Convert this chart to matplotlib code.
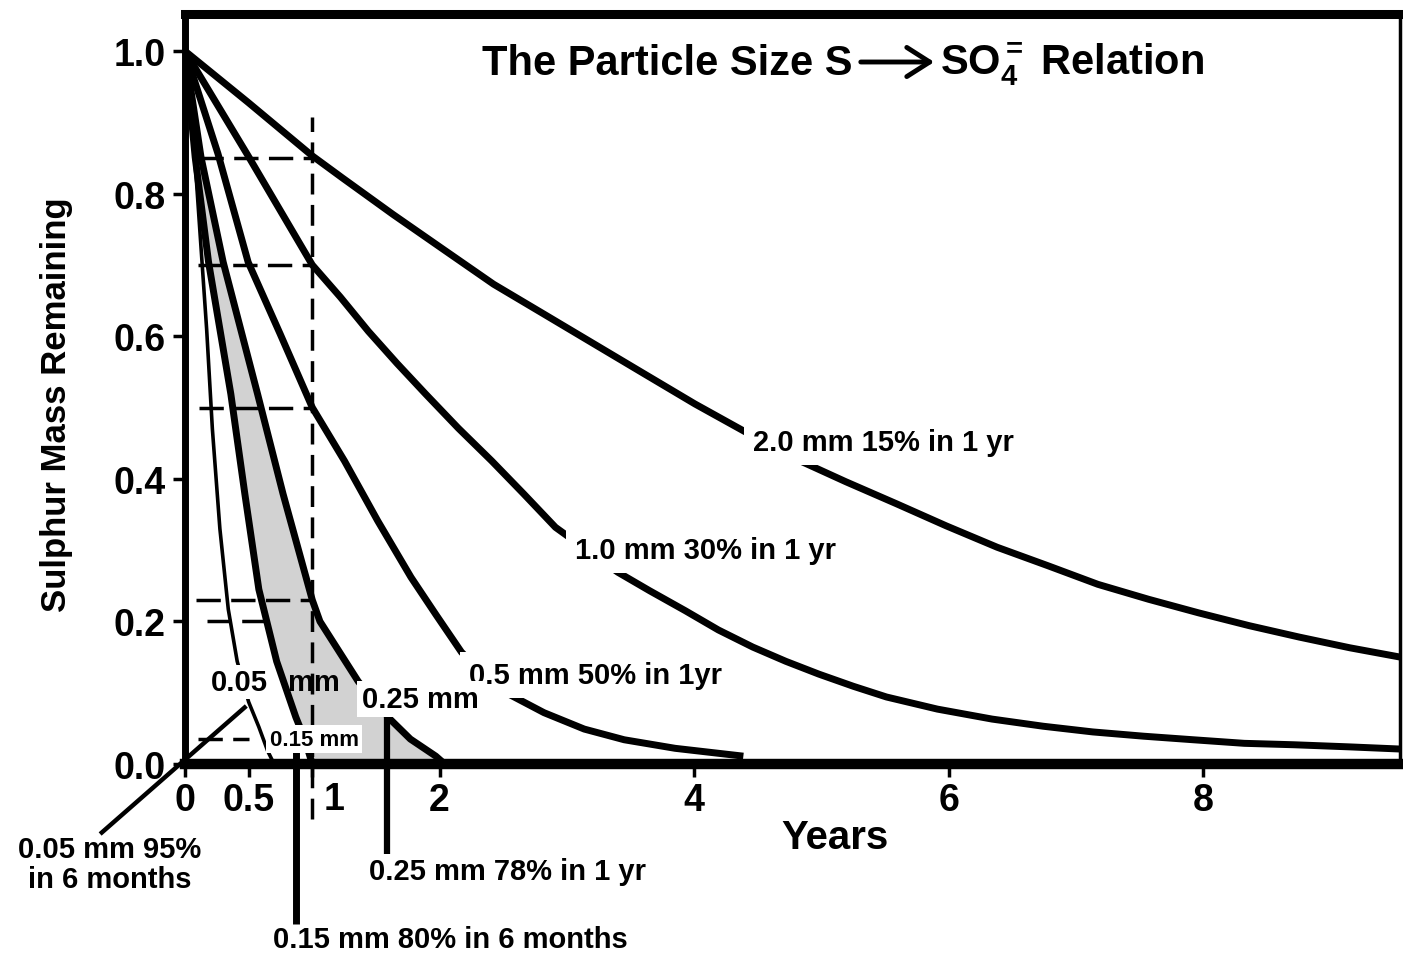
import numpy as np
import matplotlib
matplotlib.use("Agg")
import matplotlib.pyplot as plt

plt.rcParams['font.family'] = ['Liberation Sans', 'DejaVu Sans']
plt.rcParams['font.weight'] = 'bold'
plt.rcParams['mathtext.fontset'] = 'custom'
plt.rcParams['mathtext.rm'] = 'Liberation Sans:bold'
plt.rcParams['mathtext.it'] = 'Liberation Sans:bold'
plt.rcParams['mathtext.bf'] = 'Liberation Sans:bold'
plt.rcParams['mathtext.sf'] = 'Liberation Sans:bold'

# ---------------- data (years, fraction of sulphur mass remaining) ----------------
years_2_0 = [0.000, 0.496, 1.000, 1.237, 1.633, 2.028, 2.424, 2.820, 3.215, 3.610, 4.006,
             4.400, 4.797, 5.190, 5.589, 5.980, 6.380, 6.780, 7.171, 7.570, 7.962, 8.360,
             8.753, 9.150, 9.544]
mass_2_0 = [1.000, 0.928, 0.853, 0.822, 0.771, 0.722, 0.673, 0.631, 0.589, 0.547, 0.505,
            0.466, 0.428, 0.396, 0.365, 0.334, 0.304, 0.278, 0.252, 0.231, 0.212, 0.194,
            0.178, 0.163, 0.150]

years_1_0 = [0.000, 0.496, 1.000, 1.220, 1.440, 1.665, 1.890, 2.147, 2.410, 2.660, 2.910,
             3.400, 3.650, 3.930, 4.190, 4.460, 4.720, 4.980, 5.250, 5.510, 5.910, 6.340,
             6.740, 7.130, 7.530, 7.920, 8.320, 8.710, 9.150, 9.544]
mass_1_0 = [1.000, 0.853, 0.700, 0.655, 0.607, 0.562, 0.519, 0.471, 0.425, 0.379, 0.332,
            0.269, 0.243, 0.215, 0.188, 0.164, 0.144, 0.126, 0.109, 0.094, 0.077, 0.063,
            0.053, 0.045, 0.039, 0.034, 0.029, 0.027, 0.024, 0.021]

years_0_5 = [0.000, 0.259, 0.496, 0.748, 1.000, 1.253, 1.514, 1.775, 1.973, 2.171, 2.360,
             2.543, 2.820, 3.136, 3.450, 3.850, 4.386]
mass_0_5 = [1.000, 0.856, 0.704, 0.603, 0.500, 0.425, 0.341, 0.262, 0.209, 0.157, 0.123,
            0.098, 0.072, 0.049, 0.034, 0.022, 0.011]

years_0_25 = [0.00, 0.126, 0.30, 0.57, 0.77, 1.00, 1.06, 1.36, 1.61, 1.77, 1.97, 2.04]
mass_0_25 = [1.000, 0.851, 0.704, 0.519, 0.379, 0.230, 0.200, 0.116, 0.063, 0.035, 0.011, 0.000]

years_0_15 = [0.00, 0.08, 0.185, 0.36, 0.47, 0.58, 0.72, 0.87, 0.94, 1.00]
mass_0_15 = [1.000, 0.851, 0.704, 0.519, 0.379, 0.245, 0.144, 0.066, 0.035, 0.000]

years_0_05 = [0.00, 0.089, 0.17, 0.215, 0.274, 0.34, 0.41, 0.50, 0.58, 0.65, 0.70]
mass_0_05 = [1.000, 0.820, 0.610, 0.470, 0.330, 0.217, 0.144, 0.087, 0.052, 0.018, 0.000]

# one-year / six-month reference readings (dashed guides)
one_year_levels = [0.85, 0.70, 0.50, 0.23]
one_year_starts = [0.11, 0.10, 0.11, 0.09]
six_month_levels = [0.20, 0.035]
six_month_starts = [0.17, 0.10]
six_month_ends = [0.62, 0.50]

x_ticks = [0, 0.5, 1, 2, 4, 6, 8]
x_tick_labels = ["0", "0.5", "", "2", "4", "6", "8"]
y_ticks = [0.0, 0.2, 0.4, 0.6, 0.8, 1.0]
y_tick_labels = ["0.0", "0.2", "0.4", "0.6", "0.8", "1.0"]

# ---------------- figure ----------------
W, H = 1403, 954
fig = plt.figure(figsize=(W / 100, H / 100), dpi=100)
ax = fig.add_axes([185 / W, (H - 765) / H, (1400 - 185) / W, (765 - 15) / H])
XMAX, YMAX = 9.544, 1.052
ax.set_xlim(0, XMAX)
ax.set_ylim(0, YMAX)


def px2x(px):
    return (px - 185) / 135.0 if px <= 320 else 1 + (px - 320) / 126.4


def py2y(py):
    return (765 - py) / 713.0


def fx(px):
    return px / W


def fy(py):
    return 1 - py / H


# grey band between 0.15 mm and 0.25 mm
ax.fill(np.r_[years_0_25, years_0_15[::-1]], np.r_[mass_0_25, mass_0_15[::-1]],
        color='#d2d2d2', lw=0, zorder=1)

thick = 5.0
for xs, ys, lw in [(years_2_0, mass_2_0, thick), (years_1_0, mass_1_0, thick),
                   (years_0_5, mass_0_5, thick), (years_0_25, mass_0_25, thick),
                   (years_0_15, mass_0_15, thick), (years_0_05, mass_0_05, 2.6)]:
    ax.plot(xs, ys, color='black', lw=lw, solid_capstyle='butt',
            solid_joinstyle='round', zorder=3)

dash = (0, (7, 3))
ax.hlines(one_year_levels, one_year_starts, 1.0, colors='black', lw=2.5,
          linestyles=[dash], zorder=2.6)
ax.hlines(six_month_levels, six_month_starts, six_month_ends, colors='black', lw=2.5,
          linestyles=[dash], zorder=2.6)
ax.plot([1.0, 1.0], [-0.077, 0.907], color='black', lw=2.5, ls=(0, (6, 3)),
        clip_on=False, zorder=2.6)

# spines & ticks
for side, lw in [('left', 5), ('bottom', 7.5), ('top', 6.5), ('right', 2.5)]:
    ax.spines[side].set_linewidth(lw)
    ax.spines[side].set_color('black')
    ax.spines[side].set_zorder(4)
ax.set_xticks(x_ticks)
ax.set_xticklabels(x_tick_labels)
ax.set_yticks(y_ticks)
ax.set_yticklabels(y_tick_labels)
ax.tick_params(axis='x', direction='out', length=9, width=2.5, labelsize=27, pad=4)
ax.tick_params(axis='y', direction='out', length=9, width=2.5, labelsize=27, pad=5)
fig.text(fx(334), fy(800), "1", ha='center', va='center', fontsize=27, fontweight='bold')

fig.text(fx(835), fy(838), "Years", ha='center', va='center', fontsize=29, fontweight='bold')
fig.text(fx(57), fy(405), "Sulphur Mass Remaining", ha='center', va='center',
         rotation=90, fontsize=25, fontweight='bold')

# title: text, long arrow, SO4= Relation
fig.text(fx(852), fy(64), "The Particle Size S", ha='right', va='center',
         fontsize=30, fontweight='bold')
fig.add_artist(matplotlib.patches.FancyArrowPatch(
    (fx(858), fy(63)), (fx(937), fy(63)), transform=fig.transFigure,
    arrowstyle='->,head_length=0.55,head_width=0.35', mutation_scale=30,
    lw=3.5, color='black'))
fig.text(fx(940), fy(64), r"SO$_4^=$ Relation", ha='left', va='center',
         fontsize=30, fontweight='bold')

# curve labels
wbox = dict(boxstyle='square,pad=0.3', facecolor='white', edgecolor='none')
lab_kw = dict(ha='center', va='center', fontsize=21, fontweight='bold', zorder=6)
ax.text(px2x(887), py2y(443), "2.0 mm 15% in 1 yr", bbox=wbox, **lab_kw)
ax.text(px2x(710), py2y(551), "1.0 mm 30% in 1 yr", bbox=wbox, **lab_kw)
ax.text(px2x(601), py2y(676), "0.5 mm 50% in 1yr", bbox=wbox, **lab_kw)
ax.text(px2x(427), py2y(700), "0.25 mm", bbox=dict(boxstyle='square,pad=0.15',
        facecolor='white', edgecolor='none'), **lab_kw)
ax.text(px2x(243), py2y(683), "0.05", bbox=dict(boxstyle='square,pad=0.1',
        facecolor='white', edgecolor='none'), **lab_kw)
ax.text(px2x(322), py2y(683), "mm", **lab_kw)
ax.text(px2x(322), py2y(740), "0.15 mm", ha='center', va='center', fontsize=16,
        fontweight='bold', zorder=6,
        bbox=dict(boxstyle='square,pad=0.15', facecolor='white', edgecolor='none'))

# pointers & bottom annotations
ax.plot([px2x(95), px2x(250)], [py2y(835), py2y(707)], color='black', lw=3.2,
        clip_on=False, zorder=5, solid_capstyle='butt')
ax.plot([px2x(303), px2x(303)], [py2y(737), py2y(925)], color='black', lw=5,
        clip_on=False, zorder=5, solid_capstyle='butt')
ax.plot([px2x(394), px2x(394)], [py2y(713), py2y(855)], color='black', lw=4.5,
        clip_on=False, zorder=5, solid_capstyle='butt')

fig.text(fx(110), fy(865), "0.05 mm 95%\nin 6 months", ha='center', va='center',
         fontsize=21, fontweight='bold', linespacing=1.05)
fig.text(fx(450), fy(940), "0.15 mm 80% in 6 months", ha='center', va='center',
         fontsize=21, fontweight='bold')
fig.text(fx(508), fy(872), "0.25 mm 78% in 1 yr", ha='center', va='center',
         fontsize=21, fontweight='bold')

fig.savefig("out.png", dpi=100, facecolor='white')
